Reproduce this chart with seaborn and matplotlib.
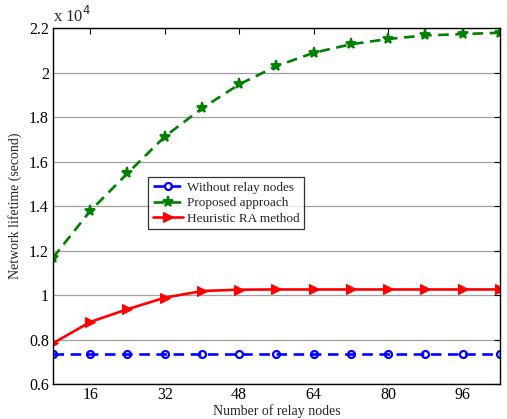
import numpy as np
import pandas as pd
import matplotlib
matplotlib.use('Agg')
import matplotlib.pyplot as plt
import seaborn as sns
from matplotlib.ticker import FuncFormatter

# data (network lifetime in units of 1e4 s)
relay_nodes = [8, 16, 24, 32, 40, 48, 56, 64, 72, 80, 88, 96, 104]
without_relay = [0.733] * 13
proposed = [1.168, 1.378, 1.547, 1.712, 1.839, 1.947, 2.029, 2.089, 2.127, 2.151, 2.167, 2.173, 2.179]
heuristic = [0.783, 0.879, 0.936, 0.988, 1.018, 1.024, 1.025, 1.025, 1.025, 1.025, 1.025, 1.025, 1.025]
x_ticks = [16, 32, 48, 64, 80, 96]
y_ticks = [0.6, 0.8, 1.0, 1.2, 1.4, 1.6, 1.8, 2.0, 2.2]

sns.set_theme(style='white')
plt.rcParams['font.family'] = ['Liberation Serif', 'DejaVu Serif']

df = pd.DataFrame({'nodes': relay_nodes, 'without': without_relay,
                   'proposed': proposed, 'heuristic': heuristic})

fig = plt.figure(figsize=(5.07, 4.19), dpi=100)
ax = fig.add_axes([0.1045, 0.0835, 0.8815, 0.8495])

sns.lineplot(data=df, x='nodes', y='without', ax=ax, color='#0000ff', linestyle=(0, (4, 2.5)),
             linewidth=1.9, marker='o', markersize=5, markerfacecolor='none',
             markeredgecolor='#0000ff', markeredgewidth=1.6, label='Without relay nodes')
sns.lineplot(data=df, x='nodes', y='proposed', ax=ax, color='#008000', linestyle=(0, (4, 2.5)),
             linewidth=1.9, marker='*', markersize=8, markeredgecolor='#008000',
             markeredgewidth=1.3, label='Proposed approach')
sns.lineplot(data=df, x='nodes', y='heuristic', ax=ax, color='#ff0000', linestyle='-',
             linewidth=1.9, marker='>', markersize=7, markeredgecolor='#ff0000',
             label='Heuristic RA method')

ax.set_xlim(8, 104)
ax.set_ylim(0.6, 2.2)
ax.set_xticks(x_ticks)
ax.set_yticks(y_ticks)
ax.yaxis.set_major_formatter(FuncFormatter(lambda v, p: '%g' % round(v, 1)))
ax.yaxis.grid(True, color='#a0a0a0', linewidth=0.9)
ax.xaxis.grid(False)
ax.tick_params(direction='in', length=4, width=0.8, top=True, right=True,
               labelsize=11.5, colors='black', pad=3)
ax.tick_params(axis='x', pad=2)
for s in ax.spines.values():
    s.set_color('black')
    s.set_linewidth(1.0)

ax.set_xlabel('Number of relay nodes', fontsize=10, labelpad=1)
ax.set_ylabel('Network lifetime (second)', fontsize=10, labelpad=5)
ax.text(0.0, 1.005, 'x 10$^4$', transform=ax.transAxes, fontsize=12, va='bottom', ha='left')

leg = ax.legend(loc='upper left', bbox_to_anchor=(0.213, 0.582), fontsize=9.5,
                frameon=True, fancybox=False, handlelength=2.3, borderpad=0.35,
                labelspacing=0.25, handletextpad=0.3, borderaxespad=0)
leg.get_frame().set_edgecolor('black')
leg.get_frame().set_linewidth(0.9)

fig.savefig('out.png', dpi=100)
